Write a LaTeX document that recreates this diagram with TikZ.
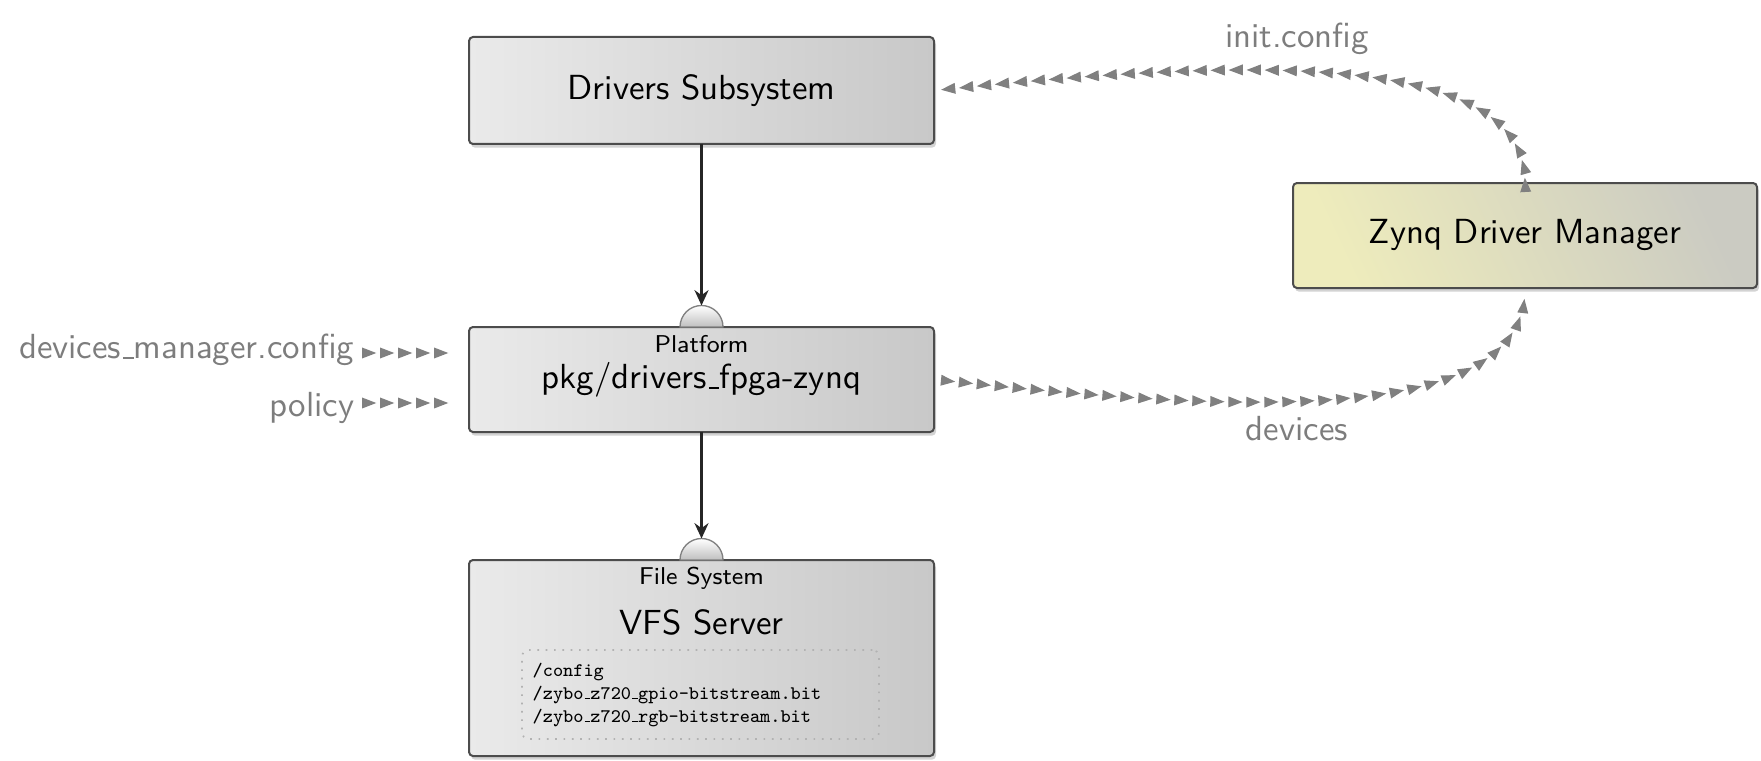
\documentclass[tikz,border=0pt]{standalone}
\usepackage{fontspec}
\usetikzlibrary{shadows,decorations.markings,arrows.meta,calc}
\definecolor{boxL}{RGB}{234,234,234}
\definecolor{boxR}{RGB}{200,200,200}
\definecolor{zynL}{RGB}{238,236,188}
\definecolor{zynR}{RGB}{203,203,194}
\definecolor{lbl}{RGB}{125,125,125}
\definecolor{tri}{RGB}{128,128,128}
\newcommand{\mainfs}{\sffamily\fontsize{10.45}{12.5}\selectfont}
\newcommand{\smallfs}{\sffamily\fontsize{7.3}{8.5}\selectfont}
\newcommand{\monofs}{\ttfamily\fontsize{5.75}{6.9}\selectfont}
\newcommand{\usc}{\leavevmode\kern.06em\vbox{\hrule width.3em}}
\begin{document}
\begin{tikzpicture}[x=0.3pt,y=-0.3pt,
  box/.style={draw=black!70, line width=0.6pt, rounded corners=1.2pt,
    left color=boxL, right color=boxR, minimum width=139.5pt,
    inner sep=0pt, outer sep=0pt,
    drop shadow={opacity=0.35, shadow xshift=0.6pt, shadow yshift=-1.1pt},
    font=\mainfs},
  zbox/.style={box, left color=zynL, right color=zynR, shading angle=115},
  lbltext/.style={text=lbl, font=\mainfs, inner sep=0pt},
  subtext/.style={font=\smallfs, inner sep=0pt},
  dotbox/.style={draw=black!30, dotted, line width=0.5pt, rounded corners=2pt},
  socket/.style={draw=black!50, line width=0.4pt, top color=white, bottom color=black!25},
  dep/.style={draw=black!85, line width=0.75pt, -{Stealth[length=4.6pt,width=4.2pt]}},
  flow/.style={color=tri, decoration={markings,
    mark=between positions #1 and 1 step 5.4pt with {\arrow{Triangle[length=4.3pt,width=3.2pt]}}},
    postaction={decorate}},
  backflow/.style={color=tri, decoration={markings,
    mark=between positions #1 and 1 step 5.4pt with {\arrowreversed{Triangle[length=4.3pt,width=3.2pt]}}},
    postaction={decorate}}
]
\useasboundingbox (0,0) rectangle (1761,760);

% boxes
\node[box, minimum height=32.1pt] (drv) at (701.5,90.5) {Drivers Subsystem};
\node[box, minimum height=31.5pt] (plat) at (701.5,379.5) {};
\node[box, minimum height=58.8pt] (vfs) at (701.5,658) {};
\node[zbox, minimum width=139.2pt, minimum height=31.5pt] (zynq) at (1525,235.5) {Zynq Driver Manager};

% sockets
\draw[socket] ($(plat.north)+(-21.5,0)$) arc[start angle=180, end angle=0, radius=6.45pt] -- cycle;
\draw[socket] ($(vfs.north)+(-21.5,0)$) arc[start angle=180, end angle=0, radius=6.45pt] -- cycle;
\coordinate (platsock) at ($(plat.north)+(0,-21.5)$);
\coordinate (vfssock) at ($(vfs.north)+(0,-21.5)$);

% box texts
\node[subtext] (platlbl) at (701.5,344) {Platform};
\node[font=\mainfs, inner sep=0pt] (platname) at (701.5,380) {pkg/drivers\usc fpga-zynq};
\node[subtext] (vfslbl) at (701.5,578) {File System};
\node[font=\mainfs, inner sep=0pt] (vfsname) at (701.5,622) {VFS Server};
\node[dotbox, minimum width=107.1pt, minimum height=26.7pt, inner sep=0pt] (files) at (700.5,694.5) {};
\node[font=\monofs, align=left, anchor=west, inner sep=0pt] (filelist) at (532,695)
  {/config\\/zybo\usc z720\usc gpio-bitstream.bit\\/zybo\usc z720\usc rgb-bitstream.bit};

% dependencies
\draw[dep] (drv.south) -- (platsock);
\draw[dep] (plat.south) -- (vfssock);

% side inputs
\node[lbltext, anchor=east] (dmcfg) at (355,350) {devices\usc manager.config};
\node[lbltext, anchor=east] (pol) at (355,408) {policy};
\coordinate (dmend) at (449,353);
\coordinate (polend) at (449,403);
\coordinate (dmstart) at (362,353);
\coordinate (polstart) at (362,403);
\path[flow=4.3pt] (dmstart) -- (dmend);
\path[flow=4.3pt] (polstart) -- (polend);

% init.config
\node[lbltext] (initlbl) at (1297,39) {init.config};
\path[backflow=2.1pt] (drv.east) .. controls (1200,63) and ($(zynq.north)+(0,-143)$) .. (zynq.north);

% devices
\node[lbltext] (devlbl) at (1297,429) {devices};
\path[flow=6.4pt] (plat.east) .. controls (1180,405) and (1525,440) .. (zynq.south);
\end{tikzpicture}
\end{document}
